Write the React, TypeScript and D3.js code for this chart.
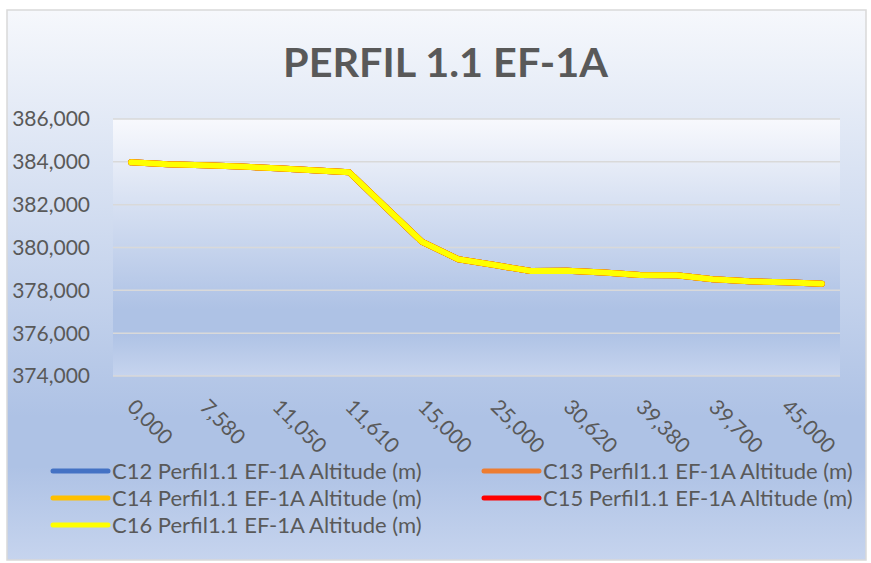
import React from "react";
import * as d3 from "d3";

const distances = [0, 3.79, 7.58, 9.32, 11.05, 11.33, 11.61, 13.31, 15, 20, 25, 27.81, 30.62, 35, 39.38, 39.54, 39.7, 42.35, 45, 47.5];
const c12 = [383.98, 383.89, 383.84, 383.78, 383.7, 383.61, 383.51, 381.88, 380.27, 379.45, 379.18, 378.9, 378.92, 378.83, 378.72, 378.7, 378.52, 378.42, 378.38, 378.31];
const c13 = [383.98, 383.89, 383.84, 383.78, 383.7, 383.61, 383.51, 381.88, 380.27, 379.45, 379.18, 378.9, 378.92, 378.83, 378.72, 378.7, 378.52, 378.42, 378.38, 378.31];
const c14 = [383.98, 383.89, 383.84, 383.78, 383.7, 383.61, 383.51, 381.88, 380.27, 379.45, 379.18, 378.9, 378.92, 378.83, 378.72, 378.7, 378.52, 378.42, 378.38, 378.31];
const c15 = [383.98, 383.89, 383.84, 383.78, 383.7, 383.61, 383.51, 381.88, 380.27, 379.45, 379.18, 378.9, 378.92, 378.83, 378.72, 378.7, 378.52, 378.42, 378.38, 378.31];
const c16 = [383.98, 383.89, 383.84, 383.78, 383.7, 383.61, 383.51, 381.88, 380.27, 379.45, 379.18, 378.9, 378.92, 378.83, 378.72, 378.7, 378.52, 378.42, 378.38, 378.31];
const seriesNames = [
  "C12 Perfil1.1 EF-1A Altitude (m)",
  "C13 Perfil1.1 EF-1A Altitude (m)",
  "C14 Perfil1.1 EF-1A Altitude (m)",
  "C15 Perfil1.1 EF-1A Altitude (m)",
  "C16 Perfil1.1 EF-1A Altitude (m)",
];
const seriesColors = ["#4472C4", "#ED7D31", "#FFC000", "#FF0000", "#FFFF00"];
const seriesValues = [c12, c13, c14, c15, c16];
const yTicks = [374, 376, 378, 380, 382, 384, 386];
const title = "PERFIL 1.1 EF-1A";

const W = 871;
const H = 563;
const plot = { left: 113, right: 840, top: 119, bottom: 376 };
const FONT = "Lato, 'Open Sans', sans-serif";
const TEXT = "#595959";

const locale = d3.formatLocale({ decimal: ",", thousands: ".", grouping: [3], currency: ["", ""] });
const fmt = locale.format(".3f");

export default function App() {
  const x = d3
    .scalePoint<number>()
    .domain(distances.map((_, i) => i))
    .range([plot.left, plot.right])
    .padding(0.5);
  const y = d3.scaleLinear().domain([374, 386]).range([plot.bottom, plot.top]);
  const line = d3
    .line<number>()
    .x((_, i) => x(i) as number)
    .y((d) => y(d));

  const legendPos = [
    { sx: 53, ty: 471 },
    { sx: 484, ty: 471 },
    { sx: 53, ty: 498 },
    { sx: 484, ty: 498 },
    { sx: 53, ty: 525 },
  ];

  return (
    <svg width={W} height={H} style={{ position: "absolute", left: 0, top: 0, display: "block" }}>
      <defs>
        <linearGradient id="gOuter" x1="0" y1="0" x2="0" y2="1">
          <stop offset="0" stopColor="#f6f8fc" />
          <stop offset="0.74" stopColor="#aec2e5" />
          <stop offset="0.83" stopColor="#aec2e5" />
          <stop offset="1" stopColor="#c6d4ee" />
        </linearGradient>
        <linearGradient id="gPlot" x1="0" y1="0" x2="0" y2="1">
          <stop offset="0" stopColor="#f8f9fd" />
          <stop offset="0.74" stopColor="#aec2e5" />
          <stop offset="0.83" stopColor="#aec2e5" />
          <stop offset="1" stopColor="#c6d4ee" />
        </linearGradient>
      </defs>
      <rect x={0} y={0} width={W} height={H} fill="#ffffff" />
      <rect x={7} y={10} width={859} height={550} fill="url(#gOuter)" stroke="#d9d9d9" strokeWidth={1.5} />
      <text
        x={445.5}
        y={77}
        textAnchor="middle"
        fontFamily={FONT}
        fontWeight="bold"
        fontSize={40}
        fill={TEXT}
        textLength={325}
        lengthAdjust="spacingAndGlyphs"
      >
        {title}
      </text>
      <rect
        x={plot.left}
        y={plot.top}
        width={plot.right - plot.left}
        height={plot.bottom - plot.top}
        fill="url(#gPlot)"
      />
      {yTicks.map((t) => (
        <g key={t}>
          <line x1={plot.left} x2={plot.right} y1={y(t)} y2={y(t)} stroke="#d9d9d9" strokeWidth={1.5} />
          <text x={90} y={y(t)} dy="0.35em" textAnchor="end" fontFamily={FONT} fontSize={21} fill={TEXT}>
            {fmt(t)}
          </text>
        </g>
      ))}
      {distances.map((d, i) =>
        i % 2 === 0 ? (
          <text
            key={i}
            transform={`translate(${x(i)},403) rotate(45)`}
            dy="0.35em"
            textAnchor="start"
            fontFamily={FONT}
            fontSize={21}
            fill={TEXT}
          >
            {fmt(d)}
          </text>
        ) : null
      )}
      {seriesValues.map((vals, k) => (
        <path
          key={k}
          d={line(vals) || ""}
          fill="none"
          stroke={seriesColors[k]}
          strokeWidth={6}
          strokeLinejoin="round"
          strokeLinecap="round"
        />
      ))}
      {seriesNames.map((name, k) => (
        <g key={name}>
          <line
            x1={legendPos[k].sx}
            x2={legendPos[k].sx + 55}
            y1={legendPos[k].ty}
            y2={legendPos[k].ty}
            stroke={seriesColors[k]}
            strokeWidth={5}
            strokeLinecap="round"
          />
          <text
            x={legendPos[k].sx + 59}
            y={legendPos[k].ty}
            dy="0.35em"
            fontFamily={FONT}
            fontSize={22}
            fill={TEXT}
          >
            {name}
          </text>
        </g>
      ))}
    </svg>
  );
}
